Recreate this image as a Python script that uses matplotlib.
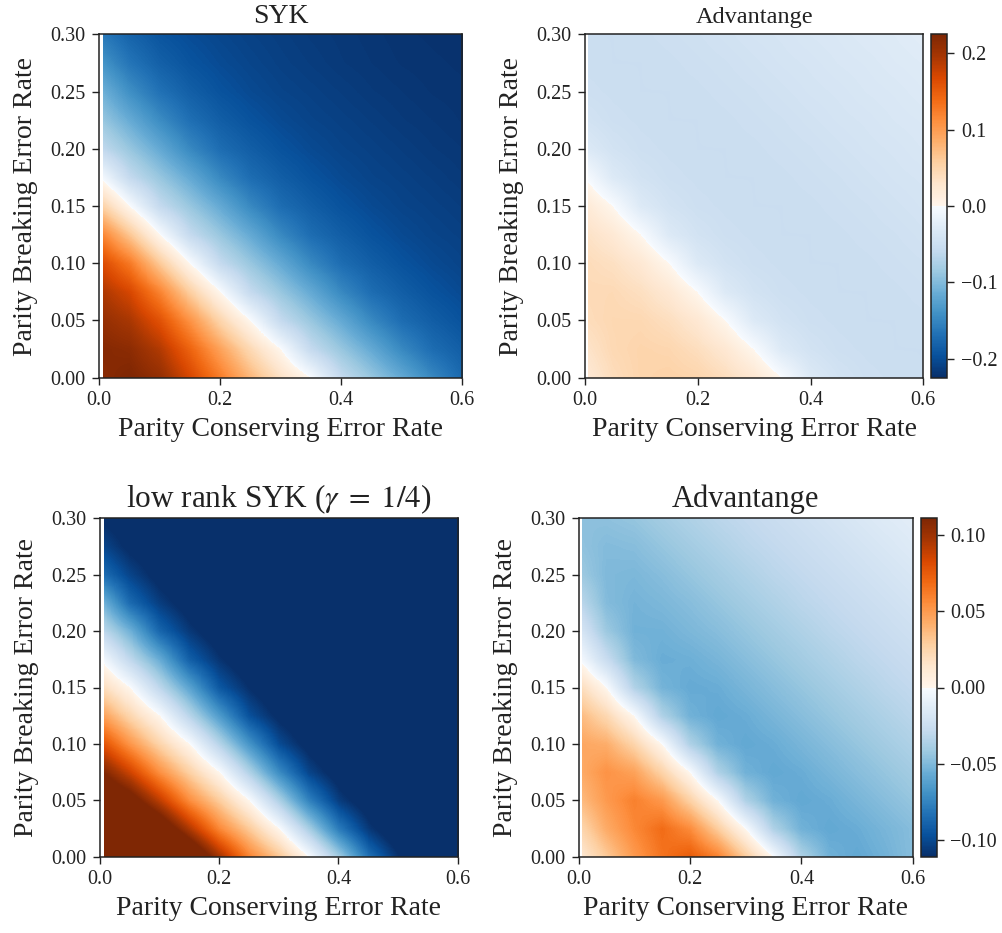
import numpy as np
import matplotlib
matplotlib.use("Agg")
import matplotlib.pyplot as plt
from matplotlib.colors import ListedColormap
from matplotlib.patches import Rectangle

plt.rcParams["font.family"] = ["Liberation Serif", "DejaVu Serif"]
plt.rcParams["mathtext.fontset"] = "stix"

# Error-rate grid: columns = parity conserving rate, rows = parity breaking rate
p_conserving = [0.0, 0.05, 0.1, 0.15, 0.2, 0.25, 0.3, 0.35, 0.4, 0.45, 0.5, 0.55, 0.6]
p_breaking = [0.0, 0.025, 0.05, 0.075, 0.1, 0.125, 0.15, 0.175, 0.2, 0.225, 0.25, 0.275, 0.3]

syk = [
    [0.215, 0.225, 0.210, 0.170, 0.125, 0.078, 0.035, 0.000, -0.057, -0.088, -0.117, -0.148, -0.175],
    [0.220, 0.215, 0.190, 0.145, 0.095, 0.045, 0.000, -0.057, -0.088, -0.117, -0.148, -0.172, -0.185],
    [0.210, 0.195, 0.160, 0.108, 0.050, 0.000, -0.057, -0.088, -0.117, -0.148, -0.172, -0.185, -0.195],
    [0.195, 0.170, 0.120, 0.057, 0.000, -0.057, -0.088, -0.117, -0.148, -0.172, -0.185, -0.195, -0.202],
    [0.170, 0.128, 0.062, 0.000, -0.057, -0.088, -0.117, -0.148, -0.172, -0.185, -0.195, -0.202, -0.207],
    [0.125, 0.065, 0.000, -0.057, -0.088, -0.117, -0.148, -0.172, -0.185, -0.195, -0.202, -0.207, -0.210],
    [0.060, 0.000, -0.057, -0.088, -0.117, -0.148, -0.172, -0.185, -0.195, -0.202, -0.207, -0.210, -0.213],
    [0.000, -0.057, -0.088, -0.117, -0.148, -0.172, -0.185, -0.195, -0.202, -0.207, -0.210, -0.213, -0.216],
    [-0.057, -0.088, -0.117, -0.148, -0.172, -0.185, -0.195, -0.202, -0.207, -0.210, -0.213, -0.216, -0.218],
    [-0.085, -0.115, -0.145, -0.170, -0.185, -0.195, -0.202, -0.207, -0.210, -0.213, -0.216, -0.218, -0.220],
    [-0.107, -0.142, -0.168, -0.184, -0.195, -0.202, -0.207, -0.210, -0.213, -0.216, -0.218, -0.220, -0.221],
    [-0.135, -0.165, -0.183, -0.194, -0.201, -0.206, -0.210, -0.213, -0.216, -0.218, -0.220, -0.221, -0.222],
    [-0.160, -0.180, -0.193, -0.200, -0.205, -0.209, -0.212, -0.215, -0.217, -0.219, -0.221, -0.222, -0.223],
]

advantage_syk = [
    [0.020, 0.040, 0.050, 0.053, 0.050, 0.040, 0.025, 0.000, -0.030, -0.042, -0.048, -0.050, -0.051],
    [0.030, 0.045, 0.050, 0.048, 0.039, 0.024, 0.000, -0.030, -0.042, -0.048, -0.050, -0.051, -0.051],
    [0.040, 0.046, 0.046, 0.038, 0.024, 0.000, -0.030, -0.042, -0.048, -0.050, -0.051, -0.051, -0.050],
    [0.043, 0.044, 0.037, 0.023, 0.000, -0.030, -0.042, -0.048, -0.050, -0.051, -0.051, -0.050, -0.048],
    [0.042, 0.036, 0.023, 0.000, -0.030, -0.042, -0.048, -0.050, -0.051, -0.051, -0.050, -0.048, -0.046],
    [0.035, 0.022, 0.000, -0.030, -0.042, -0.048, -0.050, -0.051, -0.051, -0.050, -0.048, -0.046, -0.043],
    [0.022, 0.000, -0.030, -0.042, -0.048, -0.050, -0.051, -0.051, -0.050, -0.048, -0.046, -0.043, -0.040],
    [0.000, -0.030, -0.042, -0.048, -0.050, -0.051, -0.051, -0.050, -0.048, -0.046, -0.043, -0.040, -0.038],
    [-0.030, -0.042, -0.048, -0.050, -0.051, -0.051, -0.050, -0.048, -0.046, -0.043, -0.040, -0.038, -0.035],
    [-0.042, -0.048, -0.050, -0.051, -0.051, -0.050, -0.048, -0.046, -0.043, -0.040, -0.038, -0.035, -0.033],
    [-0.048, -0.050, -0.051, -0.051, -0.050, -0.048, -0.046, -0.043, -0.040, -0.038, -0.035, -0.033, -0.030],
    [-0.050, -0.051, -0.051, -0.050, -0.048, -0.046, -0.043, -0.040, -0.038, -0.035, -0.033, -0.030, -0.028],
    [-0.051, -0.051, -0.050, -0.048, -0.046, -0.043, -0.040, -0.038, -0.035, -0.033, -0.030, -0.028, -0.025],
]

low_rank = [
    [0.200, 0.200, 0.180, 0.140, 0.098, 0.059, 0.032, 0.000, -0.040, -0.083, -0.110, -0.125, -0.135],
    [0.170, 0.160, 0.131, 0.094, 0.057, 0.030, 0.000, -0.039, -0.079, -0.107, -0.124, -0.133, -0.140],
    [0.140, 0.122, 0.090, 0.055, 0.029, 0.000, -0.037, -0.076, -0.105, -0.120, -0.131, -0.138, -0.140],
    [0.113, 0.086, 0.054, 0.027, 0.000, -0.036, -0.072, -0.102, -0.118, -0.129, -0.136, -0.140, -0.140],
    [0.082, 0.052, 0.025, 0.000, -0.034, -0.068, -0.099, -0.116, -0.127, -0.134, -0.138, -0.140, -0.140],
    [0.050, 0.024, 0.000, -0.033, -0.065, -0.097, -0.114, -0.125, -0.132, -0.136, -0.139, -0.140, -0.140],
    [0.022, 0.000, -0.031, -0.061, -0.094, -0.111, -0.124, -0.130, -0.135, -0.138, -0.140, -0.140, -0.140],
    [0.000, -0.030, -0.057, -0.091, -0.109, -0.122, -0.128, -0.133, -0.136, -0.138, -0.140, -0.140, -0.140],
    [-0.028, -0.054, -0.088, -0.107, -0.120, -0.127, -0.132, -0.135, -0.138, -0.140, -0.140, -0.140, -0.140],
    [-0.050, -0.086, -0.105, -0.118, -0.125, -0.130, -0.134, -0.137, -0.139, -0.140, -0.140, -0.140, -0.140],
    [-0.083, -0.102, -0.116, -0.123, -0.128, -0.132, -0.135, -0.138, -0.140, -0.140, -0.140, -0.140, -0.140],
    [-0.100, -0.114, -0.121, -0.126, -0.130, -0.134, -0.137, -0.139, -0.140, -0.140, -0.140, -0.140, -0.140],
    [-0.112, -0.119, -0.124, -0.128, -0.132, -0.135, -0.138, -0.140, -0.140, -0.140, -0.140, -0.140, -0.140],
]

advantage_low_rank = [
    [0.010, 0.030, 0.050, 0.065, 0.075, 0.060, 0.030, 0.000, -0.036, -0.054, -0.058, -0.054, -0.048],
    [0.022, 0.043, 0.057, 0.068, 0.056, 0.029, 0.000, -0.036, -0.054, -0.058, -0.056, -0.052, -0.048],
    [0.035, 0.050, 0.060, 0.051, 0.027, 0.000, -0.036, -0.054, -0.058, -0.056, -0.052, -0.048, -0.044],
    [0.042, 0.053, 0.047, 0.026, 0.000, -0.036, -0.054, -0.058, -0.056, -0.052, -0.048, -0.044, -0.040],
    [0.045, 0.042, 0.025, 0.000, -0.036, -0.054, -0.058, -0.056, -0.052, -0.048, -0.044, -0.040, -0.036],
    [0.038, 0.023, 0.000, -0.036, -0.054, -0.058, -0.056, -0.052, -0.048, -0.044, -0.040, -0.036, -0.032],
    [0.022, 0.000, -0.035, -0.053, -0.057, -0.056, -0.052, -0.048, -0.044, -0.040, -0.036, -0.032, -0.029],
    [0.000, -0.026, -0.050, -0.056, -0.055, -0.052, -0.048, -0.044, -0.040, -0.036, -0.032, -0.029, -0.026],
    [-0.016, -0.042, -0.054, -0.054, -0.051, -0.048, -0.044, -0.040, -0.036, -0.032, -0.029, -0.026, -0.023],
    [-0.030, -0.049, -0.053, -0.051, -0.048, -0.044, -0.040, -0.036, -0.032, -0.029, -0.026, -0.023, -0.020],
    [-0.041, -0.050, -0.051, -0.048, -0.044, -0.040, -0.036, -0.032, -0.029, -0.026, -0.023, -0.020, -0.017],
    [-0.045, -0.049, -0.048, -0.044, -0.040, -0.036, -0.032, -0.029, -0.026, -0.023, -0.020, -0.017, -0.014],
    [-0.047, -0.046, -0.044, -0.040, -0.036, -0.032, -0.029, -0.026, -0.023, -0.020, -0.017, -0.014, -0.012],
]

limit_top = 0.225
limit_bottom = 0.111

cmap = ListedColormap(np.vstack([
    plt.cm.Blues_r(np.linspace(0, 1, 128)),
    plt.cm.Oranges(np.linspace(0, 1, 128)),
]))

W, H = 1003, 933
fig = plt.figure(figsize=(W / 100, H / 100), dpi=100)
INK = "#222222"
TICK = dict(labelsize=14.5, length=4.8, width=1, pad=5, color=INK, labelcolor=INK)


def box(left, right, top, bottom):
    return [left / W, 1 - bottom / H, (right - left) / W, (bottom - top) / H]


def heatmap(rect, values, vmax, title, title_size):
    ax = fig.add_axes(rect)
    x = np.asarray(p_conserving)
    y = np.asarray(p_breaking)
    dx = x[1] - x[0]
    dy = y[1] - y[0]
    im = ax.imshow(np.asarray(values), origin="lower", cmap=cmap,
                   vmin=-vmax, vmax=vmax, aspect="auto",
                   interpolation="bilinear", interpolation_stage="data",
                   extent=[x[0] - dx / 2, x[-1] + dx / 2,
                           y[0] - dy / 2, y[-1] + dy / 2])
    im.set_clip_path(Rectangle((0.006, 0.0), 0.594, 0.3, transform=ax.transData))
    ax.set_xlim(0, 0.6)
    ax.set_ylim(0, 0.3)
    ax.set_xticks([0.0, 0.2, 0.4, 0.6])
    ax.set_xticklabels(["0.0", "0.2", "0.4", "0.6"])
    ax.set_yticks([0.0, 0.05, 0.1, 0.15, 0.2, 0.25, 0.3])
    ax.set_yticklabels(["0.00", "0.05", "0.10", "0.15", "0.20", "0.25", "0.30"])
    ax.tick_params(**TICK)
    for s in ax.spines.values():
        s.set_linewidth(1.1)
        s.set_color(INK)
    ax.set_xlabel("Parity Conserving Error Rate", fontsize=20, color=INK, labelpad=5)
    ax.set_ylabel("Parity Breaking Error Rate", fontsize=20, color=INK, labelpad=9)
    ax.set_title(title, fontsize=title_size, color=INK, pad=8)
    return im


heatmap(box(99.3, 462.3, 34.3, 377.7), syk, limit_top, "SYK", 20)
im_tr = heatmap(box(585, 923.3, 34.3, 377.7), advantage_syk, limit_top, "Advantange", 17.5)
cax1 = fig.add_axes(box(930.7, 947.3, 34.3, 377.7))
cb1 = fig.colorbar(im_tr, cax=cax1, ticks=[-0.2, -0.1, 0.0, 0.1, 0.2])
cb1.ax.set_yticklabels(["\u22120.2", "\u22120.1", "0.0", "0.1", "0.2"])

heatmap(box(100, 457.7, 518.3, 856.7), low_rank, limit_bottom,
        r"low rank SYK ($\gamma\;=\;1/4$)", 22.5)
im_br = heatmap(box(579, 912.7, 518.3, 856.7), advantage_low_rank, limit_bottom,
                "Advantange", 22)
cax2 = fig.add_axes(box(920.7, 936.7, 518.3, 856.7))
cb2 = fig.colorbar(im_br, cax=cax2, ticks=[-0.1, -0.05, 0.0, 0.05, 0.1])
cb2.ax.set_yticklabels(["\u22120.10", "\u22120.05", "0.00", "0.05", "0.10"])

for cb in (cb1, cb2):
    cb.ax.tick_params(**TICK)
    cb.outline.set_linewidth(1.1)
    cb.outline.set_edgecolor(INK)

fig.savefig("out.png", dpi=100, facecolor="white")
